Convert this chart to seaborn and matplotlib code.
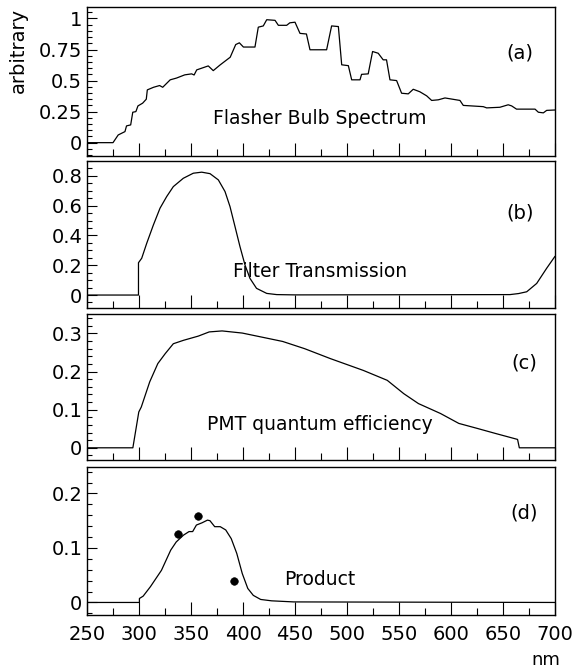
import matplotlib
matplotlib.use("Agg")
import matplotlib.pyplot as plt
import seaborn as sns
import numpy as np
from matplotlib.ticker import MultipleLocator

# ---------------- data ----------------
a_nm = [250, 275, 280, 286.5, 288, 292, 294, 297, 299, 303.5, 307, 308, 314, 319.8, 322.8, 330, 336, 344,
        350.6, 353, 355.5, 366.6, 371.4, 378, 387.7, 393, 396.5, 400.4, 411.5, 414.7, 419.5, 422.8, 430.8,
        434, 442, 445, 450, 454.8, 461, 464.4, 480.4, 485.2, 491.7, 494.9, 501.3, 504.5, 512.5, 514, 520.4,
        524.6, 530, 534.8, 538, 541.3, 547.7, 552.5, 558.9, 563.7, 570, 576.6, 581.4, 587.8, 594.2, 608.6,
        611.8, 631, 634.3, 647, 655, 658.3, 663, 680.8, 684, 688.8, 692, 700]
a_val = [0, 0, 0.062, 0.089, 0.135, 0.143, 0.245, 0.25, 0.296, 0.318, 0.35, 0.425, 0.446, 0.46, 0.446,
         0.506, 0.52, 0.546, 0.554, 0.545, 0.586, 0.618, 0.58, 0.626, 0.688, 0.79, 0.804, 0.77, 0.77, 0.93,
         0.94, 0.99, 0.985, 0.945, 0.945, 0.965, 0.97, 0.88, 0.875, 0.748, 0.748, 0.94, 0.935, 0.627, 0.62,
         0.506, 0.506, 0.55, 0.554, 0.734, 0.72, 0.667, 0.667, 0.506, 0.5, 0.398, 0.393, 0.43, 0.41, 0.377,
         0.34, 0.345, 0.36, 0.34, 0.30, 0.29, 0.28, 0.285, 0.305, 0.296, 0.27, 0.27, 0.245, 0.24, 0.26, 0.263]

b_nm = [250, 299.5, 299.5, 302.6, 307.4, 313.8, 320.2, 326.6, 333, 342.6, 352.2, 360.3, 368.3, 376.3,
        382.7, 387.5, 392.3, 397.1, 402, 406.7, 413, 422.8, 432.4, 450, 656.7, 665, 672.8, 682.4, 692, 700]
b_val = [0, 0, 0.217, 0.247, 0.347, 0.47, 0.583, 0.661, 0.728, 0.784, 0.818, 0.825, 0.815, 0.773, 0.695,
         0.594, 0.46, 0.325, 0.2, 0.112, 0.045, 0.011, 0.003, 0.001, 0.003, 0.01, 0.022, 0.078, 0.18, 0.26]

c_nm = [250, 294.1, 299.8, 302.2, 310.3, 318.1, 325.2, 333, 342.8, 357, 367.5, 379.9, 399.3, 420.5, 438.1,
        459.3, 484, 515.7, 538.7, 554.6, 568.7, 589.9, 607.5, 625.1, 642.8, 664, 665.7, 700]
c_val = [0, 0, 0.094, 0.107, 0.173, 0.221, 0.247, 0.273, 0.282, 0.293, 0.304, 0.3066, 0.301, 0.289, 0.279,
         0.26, 0.234, 0.203, 0.177, 0.142, 0.116, 0.09, 0.064, 0.051, 0.0376, 0.022, 0, 0]

d_nm = [250, 300.4, 300.4, 304, 311, 321.6, 330.5, 335.8, 342.8, 348.1, 351.6, 355.2, 360.5, 365.8, 368.2,
        372.8, 378.1, 383.4, 388.7, 394, 399.3, 404.6, 409.9, 417, 427.5, 448.7, 700]
d_val = [0, 0, 0.0073, 0.0116, 0.029, 0.059, 0.096, 0.111, 0.1235, 0.13, 0.13, 0.142, 0.146, 0.151, 0.15,
         0.139, 0.139, 0.133, 0.117, 0.09, 0.053, 0.0257, 0.013, 0.0055, 0.003, 0.001, 0]

dot_nm = [337.5, 357, 391.2]
dot_val = [0.125, 0.158, 0.04]

x_ticks = [250, 300, 350, 400, 450, 500, 550, 600, 650, 700]
x_ticklabels = ["250", "300", "350", "400", "450", "500", "550", "600", "650", "700"]

panel_titles = ["Flasher Bulb Spectrum", "Filter Transmission", "PMT quantum efficiency", "Product"]
panel_tags = ["(a)", "(b)", "(c)", "(d)"]
y_ticks = [[0, 0.25, 0.5, 0.75, 1], [0, 0.2, 0.4, 0.6, 0.8], [0, 0.1, 0.2, 0.3], [0, 0.1, 0.2]]
y_ticklabels = [["0", "0.25", "0.5", "0.75", "1"], ["0", "0.2", "0.4", "0.6", "0.8"],
                ["0", "0.1", "0.2", "0.3"], ["0", "0.1", "0.2"]]

# ---------------- style ----------------
sns.set_style("ticks")
plt.rcParams["font.family"] = ["DejaVu Sans"]
plt.rcParams["axes.linewidth"] = 1.0
plt.rcParams["text.color"] = "black"
plt.rcParams["xtick.color"] = "black"
plt.rcParams["ytick.color"] = "black"
plt.rcParams["xtick.labelcolor"] = "black"
plt.rcParams["ytick.labelcolor"] = "black"
plt.rcParams["axes.edgecolor"] = "black"

W, H = 575, 670
fig = plt.figure(figsize=(W / 100, H / 100), dpi=100)

left, right = 87, 555
panels_px = [(7.3, 155.7), (161, 308.3), (314, 460), (466.7, 615)]
ylims = [(-0.105, 1.09), (-0.089, 0.90), (-0.032, 0.351), (-0.023, 0.249)]
minor_steps = [0.05, 0.05, 0.02, 0.02]
text_y = [0.15, 0.12, 0.046, 0.032]
tag_x = [0.925, 0.925, 0.934, 0.934]
tag_y = [0.692, 0.647, 0.664, 0.688]
series = [(a_nm, a_val), (b_nm, b_val), (c_nm, c_val), (d_nm, d_val)]

for i, ((top, bot), (xs, ys)) in enumerate(zip(panels_px, series)):
    ax = fig.add_axes([left / W, 1 - bot / H, (right - left) / W, (bot - top) / H])
    sns.lineplot(x=xs, y=ys, ax=ax, color="black", linewidth=0.9, estimator=None, sort=False)
    if i == 3:
        sns.scatterplot(x=dot_nm, y=dot_val, ax=ax, color="black", s=30, edgecolor="black", zorder=5)
    ax.set_xlim(250, 700)
    ax.set_ylim(*ylims[i])
    ax.set_xticks(x_ticks)
    ax.xaxis.set_minor_locator(MultipleLocator(25))
    ax.set_yticks(y_ticks[i])
    ax.set_yticklabels(y_ticklabels[i], fontsize=14)
    ax.yaxis.set_minor_locator(MultipleLocator(minor_steps[i]))
    if i == 3:
        ax.set_xticklabels(x_ticklabels, fontsize=14)
    else:
        ax.set_xticklabels([])
    ax.tick_params(axis="x", which="major", direction="in", length=9.4, width=0.8, pad=7, top=False)
    ax.tick_params(axis="x", which="minor", direction="in", length=4.8, width=0.8, top=False)
    ax.tick_params(axis="y", which="major", direction="in", length=7, width=0.8, pad=3.5, right=False)
    ax.tick_params(axis="y", which="minor", direction="in", length=3.6, width=0.8, right=False)
    for s in ax.spines.values():
        s.set_visible(True)
        s.set_linewidth(1.0)
        s.set_color("black")
    ax.set_xlabel("")
    ax.set_ylabel("")
    ax.text(474, text_y[i], panel_titles[i], ha="center", va="baseline", fontsize=13.5)
    ax.text(tag_x[i], tag_y[i], panel_tags[i], transform=ax.transAxes, ha="center", va="center", fontsize=14)

fig.text(18 / W, 1 - 50 / H, "arbitrary", rotation=90, ha="center", va="center", fontsize=14)
fig.text(560 / W, 1 - 660 / H, "nm", ha="right", va="center", fontsize=13)

fig.savefig("out.png", dpi=100)
